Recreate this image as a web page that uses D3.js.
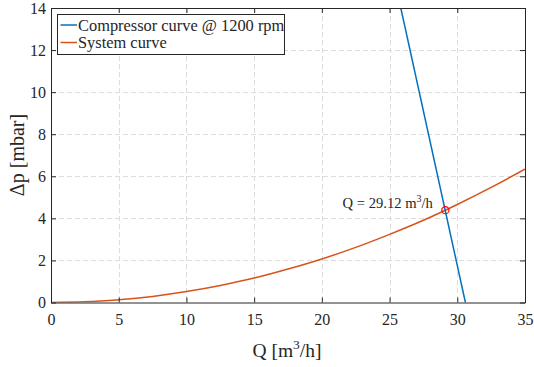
<!DOCTYPE html>
<html>
<head>
<meta charset="utf-8">
<script src="https://cdn.jsdelivr.net/npm/d3@7"></script>
<style>
  html, body { margin: 0; padding: 0; background: #fff; }
  svg { display: block; }
</style>
</head>
<body>
<svg id="chart" width="534" height="367"></svg>
<script>
// Flow rate Q [m^3/h] and pressure rise Δp [mbar]
const systemQ  = [0, 2.5, 5, 7.5, 10, 12.5, 15, 17.5, 20, 22.5, 25, 27.5, 30, 32.5, 35];
const systemDp = [0, 0.03, 0.13, 0.29, 0.52, 0.81, 1.16, 1.59, 2.07, 2.62, 3.24, 3.91, 4.66, 5.47, 6.34];
const compQ    = [25.83, 30.60];
const compDp   = [14, 0];
const opQ      = [29.12];
const opDp     = [4.39];
const xTicks   = [0, 5, 10, 15, 20, 25, 30, 35];
const yTicks   = [0, 2, 4, 6, 8, 10, 12, 14];
const seriesNames = ["Compressor curve @ 1200 rpm", "System curve"];
const seriesColors = ["#0072BD", "#D95319"];

const FONT = "'Liberation Serif', Tinos, 'Times New Roman', serif";
const axisColor = "#262626";

const svg = d3.select("#chart")
  .attr("font-family", FONT).style("font-family", FONT);
const plotL = 51, plotR = 525, plotT = 8, plotB = 302.5;

const x = d3.scaleLinear().domain([0, 35]).range([plotL, plotR]);
const y = d3.scaleLinear().domain([0, 14]).range([plotB, plotT]);

// grid
const grid = svg.append("g");
grid.selectAll("line.gx").data(xTicks.slice(1, -1)).join("line")
  .attr("x1", d => Math.round(x(d)) + 0.5).attr("x2", d => Math.round(x(d)) + 0.5)
  .attr("y1", plotT).attr("y2", plotB)
  .attr("stroke", "#dcdcdc").attr("stroke-width", 1).attr("stroke-dasharray", "5,3");
grid.selectAll("line.gy").data(yTicks.slice(1, -1)).join("line")
  .attr("y1", d => Math.round(y(d)) + 0.5).attr("y2", d => Math.round(y(d)) + 0.5)
  .attr("x1", plotL).attr("x2", plotR)
  .attr("stroke", "#dcdcdc").attr("stroke-width", 1).attr("stroke-dasharray", "5,3");

// curves, clipped to the axes box
svg.append("clipPath").attr("id", "plotclip")
  .append("rect").attr("x", plotL).attr("y", plotT).attr("width", plotR - plotL).attr("height", plotB - plotT);

const plot = svg.append("g").attr("clip-path", "url(#plotclip)");

const sysLine = d3.line().x(d => x(d[0])).y(d => y(d[1])).curve(d3.curveMonotoneX);
const compLine = d3.line().x(d => x(d[0])).y(d => y(d[1]));

plot.append("path")
  .datum(systemQ.map((q, i) => [q, systemDp[i]]))
  .attr("d", sysLine).attr("fill", "none")
  .attr("stroke", seriesColors[1]).attr("stroke-width", 1.5);

plot.append("path")
  .datum(compQ.map((q, i) => [q, compDp[i]]))
  .attr("d", compLine).attr("fill", "none")
  .attr("stroke", seriesColors[0]).attr("stroke-width", 1.5);

// operating point
plot.selectAll("circle.op").data(opQ).join("circle")
  .attr("cx", d => x(d)).attr("cy", (d, i) => y(opDp[i])).attr("r", 3.6)
  .attr("fill", "none").attr("stroke", "#FF0000").attr("stroke-width", 1.2);

function txt(sel) {
  return sel.attr("font-family", FONT).style("font-family", FONT).attr("fill", axisColor);
}

const lab = svg.append("text").call(txt)
  .attr("x", x(opQ[0]) - 12.5).attr("y", y(opDp[0]) - 2.5)
  .attr("text-anchor", "end").attr("font-size", 14.6);
lab.append("tspan").text("Q = " + opQ[0].toFixed(2) + " m");
lab.append("tspan").attr("dy", -6).attr("font-size", 10).text("3");
lab.append("tspan").attr("dy", 6).text("/h");

// axes (box with inward ticks)
const xAxisB = d3.axisBottom(x).tickValues(xTicks).tickSizeInner(-5).tickSizeOuter(0).tickPadding(11).tickFormat(d3.format("d"));
const xAxisT = d3.axisTop(x).tickValues(xTicks).tickSizeInner(-5).tickSizeOuter(0).tickFormat("");
const yAxisL = d3.axisLeft(y).tickValues(yTicks).tickSizeInner(-5).tickSizeOuter(0).tickPadding(5).tickFormat(d3.format("d"));
const yAxisR = d3.axisRight(y).tickValues(yTicks).tickSizeInner(-5).tickSizeOuter(0).tickFormat("");

function styleAxis(g) {
  g.attr("font-family", FONT).attr("font-size", 16);
  g.select(".domain").attr("stroke", axisColor).attr("stroke-width", 1);
  g.selectAll(".tick line").attr("stroke", axisColor);
  g.selectAll(".tick text").call(txt).attr("font-size", 16);
}
svg.append("g").attr("transform", `translate(0,${plotB})`).call(xAxisB).call(styleAxis);
svg.append("g").attr("transform", `translate(0,${plotT})`).call(xAxisT).call(styleAxis);
svg.append("g").attr("transform", `translate(${plotL},0)`).call(yAxisL).call(styleAxis);
svg.append("g").attr("transform", `translate(${plotR},0)`).call(yAxisR).call(styleAxis);

// axis titles
const xl = svg.append("text").call(txt).attr("x", 287).attr("y", 357)
  .attr("text-anchor", "middle").attr("font-size", 19.5);
xl.append("tspan").text("Q [m");
xl.append("tspan").attr("dy", -8).attr("font-size", 13.5).text("3");
xl.append("tspan").attr("dy", 8).text("/h]");

svg.append("text").call(txt).attr("transform", `translate(24,155) rotate(-90)`)
  .attr("text-anchor", "middle").attr("font-size", 20).text("Δp [mbar]");

// legend
const lg = svg.append("g").attr("transform", "translate(57.5,14.5)");
lg.append("rect").attr("x", 0).attr("y", 0).attr("width", 227).attr("height", 40)
  .attr("fill", "#fff").attr("stroke", axisColor).attr("stroke-width", 1);
seriesNames.forEach((name, i) => {
  const cy = 10.5 + i * 17.5;
  lg.append("line").attr("x1", 3).attr("x2", 19.5).attr("y1", cy).attr("y2", cy)
    .attr("stroke", seriesColors[i]).attr("stroke-width", 1.5);
  lg.append("text").call(txt).attr("x", 20.5).attr("y", cy + 5.5).attr("font-size", 16.4).text(name);
});
</script>
</body>
</html>
